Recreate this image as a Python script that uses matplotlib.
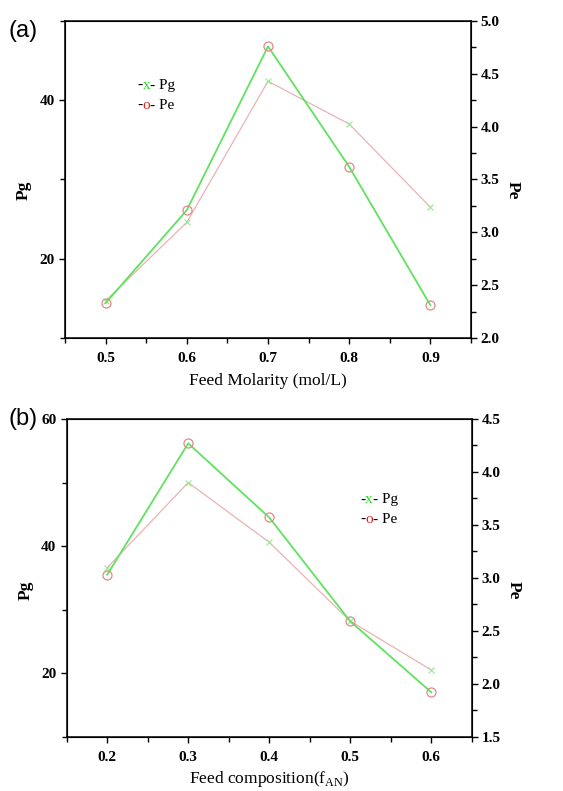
import matplotlib
matplotlib.use("Agg")
import matplotlib.pyplot as plt
from matplotlib.ticker import MultipleLocator

# Panel (a) data
molarity = [0.5, 0.6, 0.7, 0.8, 0.9]
pg_a = [14.7, 24.6, 42.4, 37.0, 26.5]
pe_a = [2.33, 3.21, 4.76, 3.62, 2.31]

# Panel (b) data
composition = [0.2, 0.3, 0.4, 0.5, 0.6]
pg_b = [36.6, 50.0, 40.6, 28.2, 20.5]
pe_b = [3.03, 4.27, 3.57, 2.59, 1.92]

SERIF = ["Liberation Serif", "DejaVu Serif"]
GREEN = "#5fe35f"
PINK = "#e9b3b3"
RED_MK = "#e08a8a"
XGREEN = "#8ef08e"

fig = plt.figure(figsize=(5.63, 7.91), dpi=100)


def style_axis(ax, twin):
    for sp in ax.spines.values():
        sp.set_linewidth(1.1)
    ax.tick_params(axis="both", which="major", direction="out", length=4, width=1.0,
                   labelsize=11)
    ax.tick_params(axis="both", which="minor", direction="out", length=3.5, width=1.0)
    ax.tick_params(axis="x", which="both", top=False, pad=6)
    ax.tick_params(axis="y", which="both", right=False)
    twin.tick_params(axis="y", which="major", direction="out", length=4, width=1.0,
                     labelsize=11, pad=3)
    twin.tick_params(axis="y", which="minor", direction="out", length=3.5, width=1.0)
    for lab in ax.get_xticklabels() + ax.get_yticklabels() + twin.get_yticklabels():
        lab.set_fontfamily(SERIF)
        lab.set_fontweight("bold")


def legend_text(ax, x, y):
    kw = dict(fontsize=11, fontfamily=SERIF, va="bottom")
    t1 = ax.text(x, y, "-", transform=ax.transAxes, color="black", **kw)
    t2 = ax.annotate("x", xycoords=t1, xy=(1, 0), color="#22dd22", **kw)
    ax.annotate("- Pg", xycoords=t2, xy=(1, 0), color="black", **kw)
    t4 = ax.text(x, y - 0.062, "-", transform=ax.transAxes, color="black", **kw)
    t5 = ax.annotate("o", xycoords=t4, xy=(1, 0), color="#e02020", **kw)
    ax.annotate("- Pe", xycoords=t5, xy=(1, 0), color="black", **kw)


def panel(rect, xs, pg, pe, xlim, ylim_l, ylim_r, xlabel, tag, tag_top, leg_xy, lab_y,
          labelpad):
    ax = fig.add_axes(rect)
    tw = ax.twinx()
    ax.plot(xs, pg, color=PINK, lw=0.9, marker="x", ms=5, mew=0.8, mec=XGREEN, zorder=3)
    tw.plot(xs, pe, color=GREEN, lw=1.3, marker="o", ms=6.5, mfc="none", mec=RED_MK,
            mew=0.9, zorder=4)
    ax.set_xlim(*xlim)
    ax.set_ylim(*ylim_l)
    tw.set_ylim(*ylim_r)
    ax.xaxis.set_major_locator(MultipleLocator(0.1))
    ax.xaxis.set_minor_locator(MultipleLocator(0.05))
    ax.yaxis.set_major_locator(MultipleLocator(20))
    ax.yaxis.set_minor_locator(MultipleLocator(10))
    tw.yaxis.set_major_locator(MultipleLocator(0.5))
    tw.yaxis.set_minor_locator(MultipleLocator(0.25))
    tw.yaxis.set_major_formatter(plt.FormatStrFormatter("%.1f"))
    ax.xaxis.set_major_formatter(plt.FormatStrFormatter("%.1f"))
    style_axis(ax, tw)
    ax.set_xlabel(xlabel, fontsize=12.5, fontfamily=SERIF, labelpad=labelpad)
    ax.set_ylabel("Pg", fontsize=12.5, fontfamily=SERIF, fontweight="bold")
    tw.set_ylabel("Pe", fontsize=12.5, fontfamily=SERIF, fontweight="bold", rotation=270,
                  va="bottom")
    ax.yaxis.set_label_coords(-0.081, lab_y)
    tw.yaxis.set_label_coords(1.083, lab_y)
    fig.text(8 / 563, 1 - tag_top / 791, tag, fontsize=17,
             fontfamily=["Liberation Sans", "DejaVu Sans"], va="top", ha="left")
    legend_text(ax, *leg_xy)
    return ax


panel([65 / 563, 1 - 338 / 791, 406 / 563, 317 / 791], molarity, pg_a, pe_a,
      (0.45, 0.95), (10, 50), (2.0, 5.0), "Feed Molarity (mol/L)", "(a)", 20,
      (0.178, 0.775), 0.467, 6)

panel([66.7 / 563, 1 - 736.7 / 791, 405 / 563, 317.7 / 791], composition, pg_b, pe_b,
      (0.15, 0.65), (10, 60), (1.5, 4.5), "Feed composition(f$_{\\mathregular{AN}}$)",
      "(b)", 408, (0.724, 0.725), 0.462, 4)

fig.savefig("out.png", dpi=100)
